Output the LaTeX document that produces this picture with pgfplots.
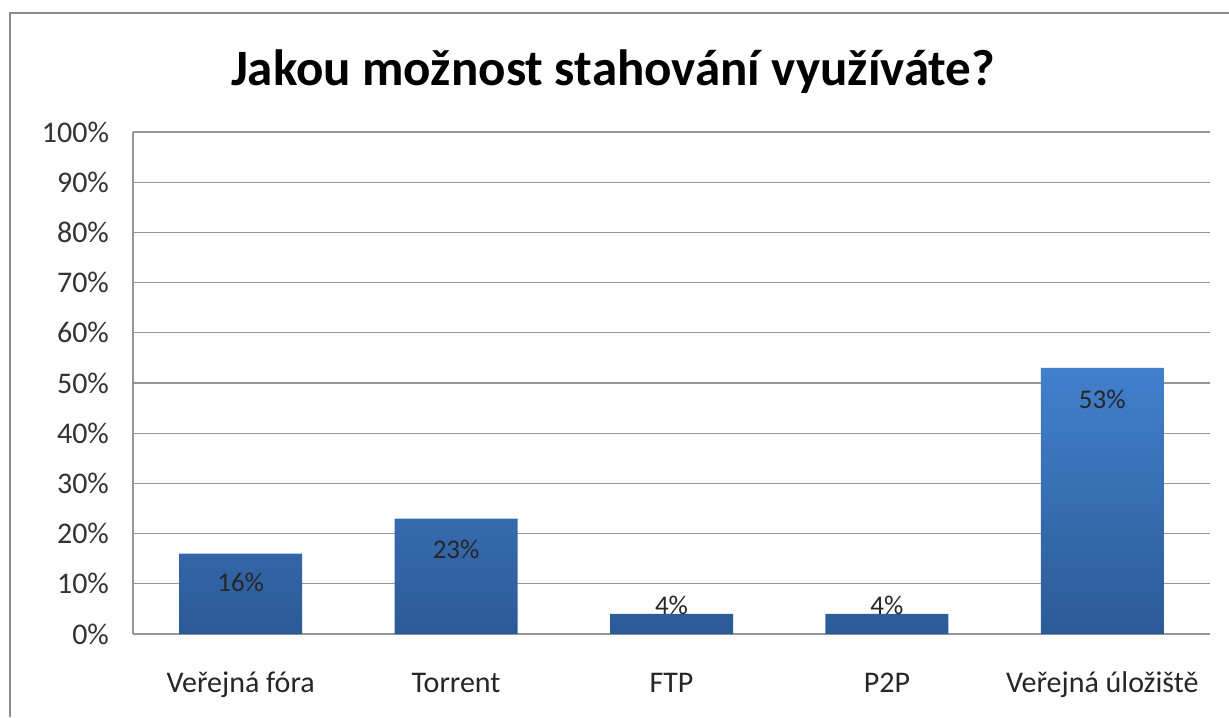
\documentclass[border=0pt]{standalone}
\usepackage{pgfplots}
\pgfplotsset{compat=1.18}
\usepackage{fontspec}
\setmainfont{Carlito}
\definecolor{gridgray}{RGB}{150,150,150}
\definecolor{bartop}{RGB}{66,128,204}
\definecolor{barbot}{RGB}{44,90,152}
\definecolor{framegray}{RGB}{140,140,140}
\tikzset{catlabel/.style={font=\fontsize{15}{17}\selectfont, text=black!85, anchor=base}}
\begin{document}
\begin{tikzpicture}[x=0.5pt,y=0.5pt]
\useasboundingbox (0,0) rectangle (1229,717);
\fill[white] (0,0) rectangle (1229,717);
\draw[framegray,line width=1.2pt] (10,0) -- (10,704) -- (1229,704);
\node[font=\fontsize{25.5}{30}\selectfont\bfseries] at (613,645) {Jakou možnost stahování využíváte?};
\begin{axis}[
  at={(66.5pt,41.5pt)},
  anchor=south west,
  scale only axis,
  width=538.5pt, height=251pt,
  xmin=-0.5, xmax=4.5, ymin=0, ymax=100,
  axis x line=none,
  axis y line*=left,
  y axis line style={draw=gridgray, line width=0.6pt},
  ytick={0,10,...,100},
  yticklabel={\pgfmathprintnumber{\tick}\%},
  yticklabel style={font=\fontsize{15}{17}\selectfont, text=black!80, xshift=-8.5pt},
  major tick length=0pt,
  ymajorgrids,
  grid style={draw=gridgray, line width=0.6pt},
  /pgf/number format/assume math mode=true,
  clip=false,
]
\addplot[ybar, bar width=61.5pt, bar shift=0pt, draw=none, top color=bartop, bottom color=barbot]
  coordinates {(0,16) (1,23) (2,4) (3,4) (4,53)};
\addplot[only marks, mark=none, point meta=explicit symbolic,
  nodes near coords={\pgfplotspointmeta\%}, nodes near coords align=center,
  every node near coord/.append style={font=\fontsize{13.5}{15}\selectfont, text=black!85}]
  coordinates {(0,10.2)[16] (1,16.9)[23] (2,5.6)[4] (3,5.6)[4] (4,46.8)[53]};
\node[catlabel] at (axis cs:0,-11.6) {Veřejná fóra};
\node[catlabel] at (axis cs:1,-11.6) {Torrent};
\node[catlabel] at (axis cs:2,-11.6) {FTP};
\node[catlabel] at (axis cs:3,-11.6) {P2P};
\node[catlabel] at (axis cs:4,-11.6) {Veřejná úložiště};
\end{axis}
\end{tikzpicture}
\end{document}
